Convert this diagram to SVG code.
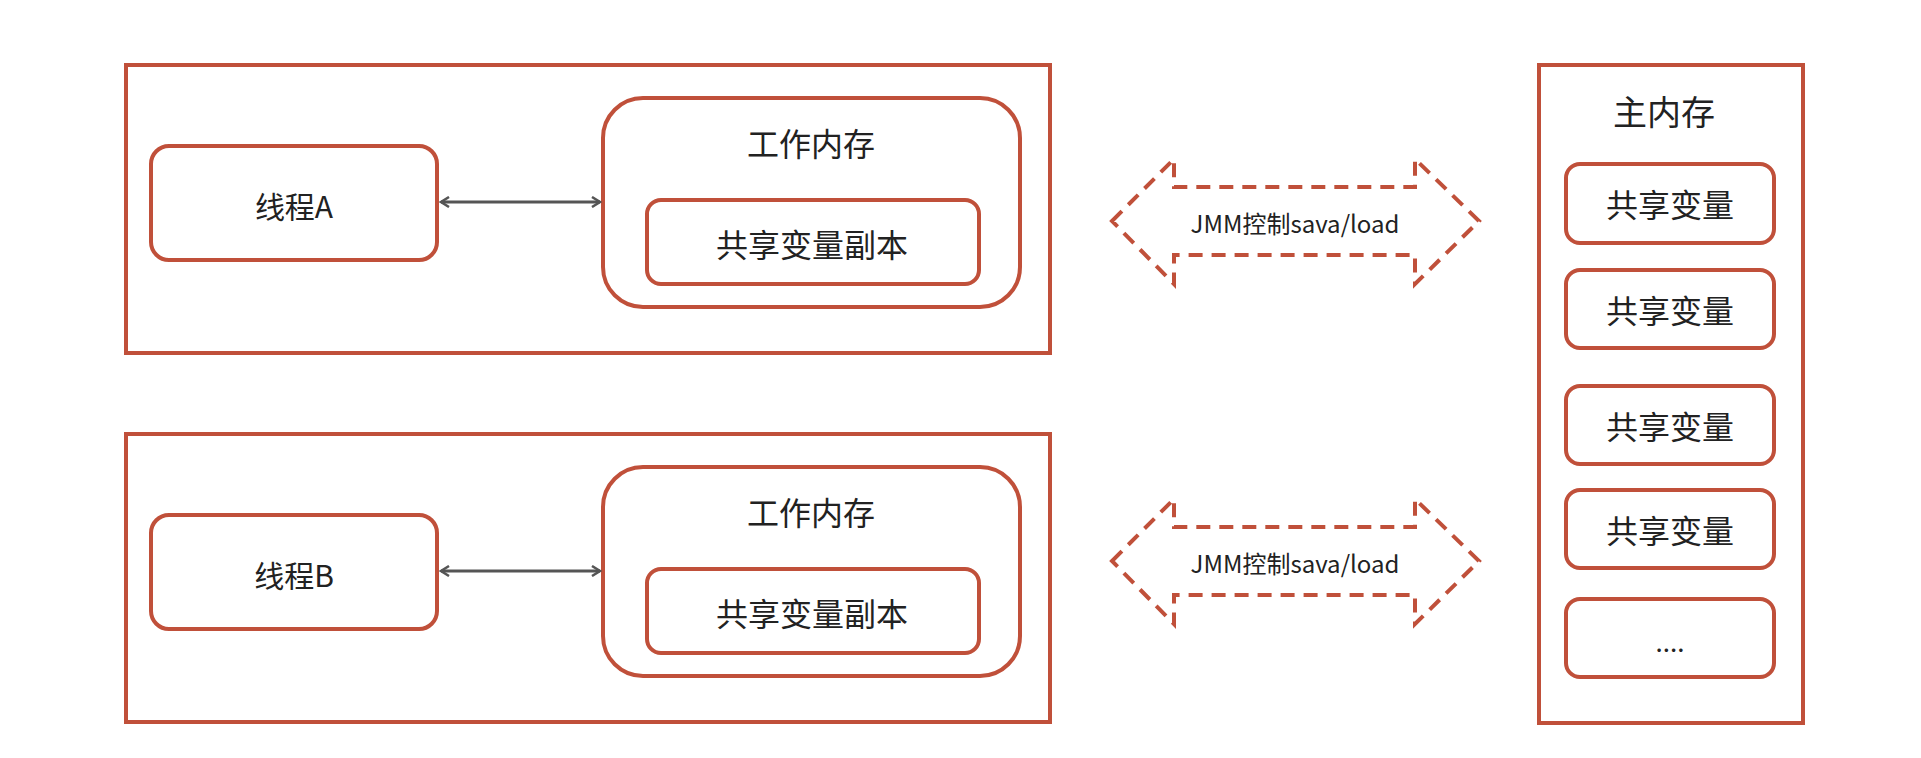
<svg xmlns="http://www.w3.org/2000/svg" width="1921" height="758" viewBox="0 0 1921 758">
<defs>
<style>
.b{fill:#fff;stroke:#C0503A;stroke-width:4}
.t{font-family:"Noto Sans CJK SC","Noto Sans",sans-serif;fill:#222;text-anchor:middle;dominant-baseline:central}
.d{fill:none;stroke:#C0503A;stroke-width:4;stroke-dasharray:14 9}
.c{stroke:#555;stroke-width:3;fill:none}
</style>
<marker id="ah" viewBox="0 0 12 12" refX="10" refY="6" markerWidth="12" markerHeight="12" markerUnits="userSpaceOnUse" orient="auto-start-reverse"><path d="M2,1 L10,6 L2,11" fill="none" stroke="#555" stroke-width="2.5"/></marker>
</defs>
<rect width="1921" height="758" fill="#fff"/>
<g id="boxA"><rect class="b" x="126" y="65" width="924" height="288"/></g>
<g id="threadA"><rect class="b" x="151" y="146" width="286" height="114" rx="18"/><text class="t" x="294" y="205" font-size="30">线程A</text></g>
<g id="workA"><rect class="b" x="603" y="98" width="417" height="209" rx="40"/><text class="t" x="811" y="142" font-size="32">工作内存</text></g>
<g id="copyA"><rect class="b" x="647" y="200" width="332" height="84" rx="14"/><text class="t" x="812" y="243" font-size="32">共享变量副本</text></g>
<g id="boxB"><rect class="b" x="126" y="434" width="924" height="288"/></g>
<g id="threadB"><rect class="b" x="151" y="515" width="286" height="114" rx="18"/><text class="t" x="294" y="574" font-size="30">线程B</text></g>
<g id="workB"><rect class="b" x="603" y="467" width="417" height="209" rx="40"/><text class="t" x="811" y="511" font-size="32">工作内存</text></g>
<g id="copyB"><rect class="b" x="647" y="569" width="332" height="84" rx="14"/><text class="t" x="812" y="612" font-size="32">共享变量副本</text></g>
<g id="main"><rect class="b" x="1539" y="65" width="264" height="658"/><text class="t" x="1664" y="110" font-size="34">主内存</text></g>
<g id="v1"><rect class="b" x="1566" y="164" width="208" height="79" rx="14"/><text class="t" x="1670" y="203" font-size="32">共享变量</text></g>
<g id="v2"><rect class="b" x="1566" y="270" width="208" height="78" rx="14"/><text class="t" x="1670" y="309" font-size="32">共享变量</text></g>
<g id="v3"><rect class="b" x="1566" y="386" width="208" height="78" rx="14"/><text class="t" x="1670" y="425" font-size="32">共享变量</text></g>
<g id="v4"><rect class="b" x="1566" y="490" width="208" height="78" rx="14"/><text class="t" x="1670" y="529" font-size="32">共享变量</text></g>
<g id="v5"><rect class="b" x="1566" y="599" width="208" height="78" rx="14"/><text class="t" x="1670" y="640" font-size="26">....</text></g>
<g id="connectors">
<line class="c" x1="441" y1="202" x2="600" y2="202" marker-start="url(#ah)" marker-end="url(#ah)"/>
<line class="c" x1="441" y1="571" x2="600" y2="571" marker-start="url(#ah)" marker-end="url(#ah)"/>
<g id="jmmA"><path class="d" d="M1112,221 L1174,159 L1174,187 L1415,187 L1415,159 L1479,221 L1415,284 L1415,255 L1174,255 L1174,284 Z"/><text class="t" x="1295" y="222" font-size="24">JMM控制sava/load</text></g>
<g id="jmmB"><path class="d" d="M1112,561 L1174,499 L1174,527 L1415,527 L1415,499 L1479,561 L1415,624 L1415,595 L1174,595 L1174,624 Z"/><text class="t" x="1295" y="562" font-size="24">JMM控制sava/load</text></g>
</g>
</svg>
